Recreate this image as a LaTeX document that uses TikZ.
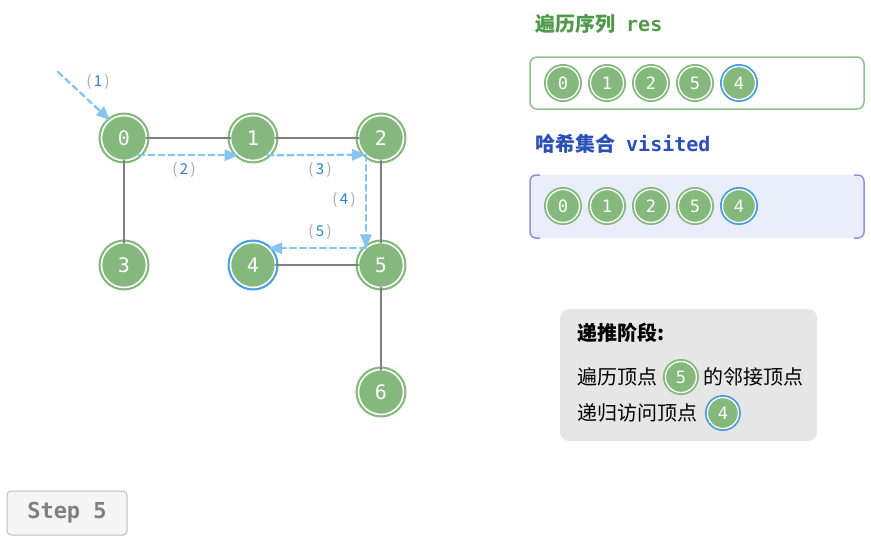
\documentclass[tikz,border=0pt]{standalone}
\usepackage{fontspec}
\setmainfont{Noto Sans CJK SC}
\setmonofont{DejaVu Sans Mono}
\usetikzlibrary{arrows,positioning}

\definecolor{vgreen}{HTML}{84B87C}
\definecolor{vblue}{HTML}{4A9FE0}
\definecolor{vedge}{HTML}{808080}
\definecolor{vflow}{HTML}{86C5EF}
\definecolor{lblnum}{HTML}{2F82C2}
\definecolor{lblpar}{HTML}{A8A8A8}
\definecolor{resgreen}{HTML}{4F9A4A}
\definecolor{resbox}{HTML}{8EC189}
\definecolor{visblue}{HTML}{2A4FB8}
\definecolor{visfill}{HTML}{E9EEFA}
\definecolor{visline}{HTML}{8895D8}
\definecolor{notefill}{HTML}{E6E6E6}
\definecolor{stepgray}{HTML}{808080}

\tikzset{
  vbase/.style={circle, inner sep=0pt, outer sep=0pt, fill=vgreen, draw=white, text=white},
  vert/.style={vbase, minimum size=45pt, line width=1.6pt, preaction={draw=#1, line width=6pt},
    font=\fontsize{20}{20}\selectfont\ttfamily},
  vert/.default=vgreen,
  vsmall/.style={vbase, minimum size=33pt, line width=1.3pt, preaction={draw=#1, line width=5pt},
    font=\fontsize{17}{17}\selectfont\ttfamily},
  vsmall/.default=vgreen,
  edge/.style={draw=vedge, line width=2pt},
  flow/.style={draw=vflow, line width=2.3pt, dash pattern=on 6pt off 4pt, ->},
  flowlbl/.style={inner sep=0pt, font=\fontsize{15}{15}\selectfont},
  plain/.style={inner sep=0pt, anchor=west}
}
\newcommand{\flowtag}[1]{\textcolor{lblpar}{(}\,\textcolor{lblnum}{#1}\,\textcolor{lblpar}{)}}

\begin{document}
\begin{tikzpicture}[line cap=round,line join=round,>=triangle 45,x=1pt,y=-1pt]
\useasboundingbox (0,0) rectangle (871,542);

% graph
\node[vert] (n0) at (124,138) {0};
\node[vert] (n1) at (253,138) {1};
\node[vert] (n2) at (381,138) {2};
\node[vert] (n3) at (124,265) {3};
\node[vert=vblue] (n4) at (253,265) {4};
\node[vert] (n5) at (381,265) {5};
\node[vert] (n6) at (381,392) {6};

\draw[edge] (n0) -- (n1);
\draw[edge] (n1) -- (n2);
\draw[edge] (n0) -- (n3);
\draw[edge] (n2) -- (n5);
\draw[edge] (n4) -- (n5);
\draw[edge] (n5) -- (n6);

% traversal
\coordinate (start) at (58,72);
\draw[flow] (start) -- (n0.128);
\draw[flow] (n0.-50) -- (n1.-130);
\draw[flow] (n1.-50) -- (n2.-132);
\draw[flow] (n2.-132) -- (n5.132);
\draw[flow] (n5.132) -- (n4.48);
\node[flowlbl] (f1) at (98,82) {\flowtag{1}};
\node[flowlbl] (f2) at (184,170) {\flowtag{2}};
\node[flowlbl] (f3) at (320,170) {\flowtag{3}};
\node[flowlbl] (f4) at (344,200) {\flowtag{4}};
\node[flowlbl] (f5) at (320,232) {\flowtag{5}};

% res
\node[plain, text=resgreen, font=\fontsize{20}{20}\selectfont\bfseries] (restitle) at (535,24)
  {遍历序列\hspace{11pt}\texttt{res}};
\draw[resbox, line width=1.5pt, rounded corners=7pt, fill=white] (530,57) rectangle (864,109);
\foreach \v [count=\i from 0] in {0,1,2,5} {
  \node[vsmall] (r\i) at (563+44*\i,83) {\v};
}
\node[vsmall=vblue] (r4) at (739,83) {4};

% visited
\node[plain, text=visblue, font=\fontsize{20}{20}\selectfont\bfseries] (vistitle) at (535,144)
  {哈希集合\hspace{11pt}\texttt{visited}};
\fill[visfill, rounded corners=6pt] (530,175) rectangle (864,238);
\begin{scope}
  \clip (520,168) rectangle (540,246) (854,168) rectangle (872,246);
  \draw[visline, line width=1.5pt, rounded corners=6pt] (530,175) rectangle (864,238);
\end{scope}
\foreach \v [count=\i from 0] in {0,1,2,5} {
  \node[vsmall] (s\i) at (563+44*\i,206) {\v};
}
\node[vsmall=vblue] (s4) at (739,206) {4};

% note
\fill[notefill, rounded corners=9pt] (560,309) rectangle (817,441);
\begin{scope}[every node/.style={plain, font=\fontsize{20}{20}\selectfont}]
  \node[font=\fontsize{20}{20}\selectfont\bfseries] (ntitle) at (577,333) {递推阶段:};
  \node (nl1) at (577,377) {遍历顶点};
  \node (nl2) at (577,413) {递归访问顶点};
\end{scope}
\node[vsmall, minimum size=31pt, right=8pt of nl1] (g5) {5};
\node[plain, font=\fontsize{20}{20}\selectfont, right=7pt of g5] (nl1b) {的邻接顶点};
\node[vsmall=vblue, minimum size=31pt, right=10pt of nl2] (g4) {4};

% step
\node[draw=lightgray, fill=black!4, line width=1pt, rounded corners=4pt, minimum width=120pt,
  minimum height=44pt, text=stepgray, font=\fontsize{22}{22}\selectfont\ttfamily\bfseries] (step) at (67,513) {Step 5};
\end{tikzpicture}
\end{document}
